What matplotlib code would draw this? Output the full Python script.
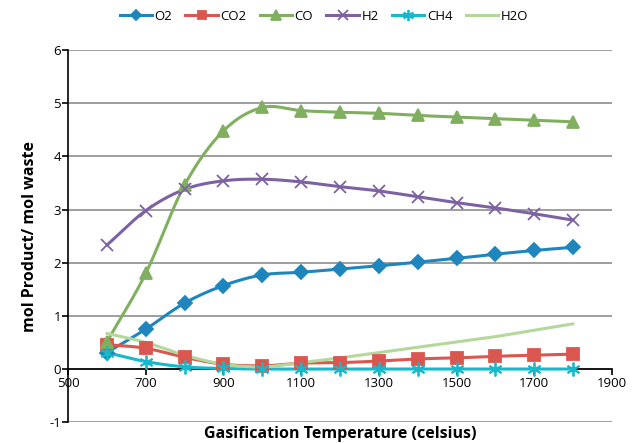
import numpy as np
import matplotlib
matplotlib.use("Agg")
import matplotlib.pyplot as plt

plt.rcParams['font.family'] = ['Open Sans', 'DejaVu Sans']
plt.rcParams['axes.unicode_minus'] = False

# gasification temperature (celsius) and mol product per mol waste
temps = [600, 700, 800, 900, 1000, 1100, 1200, 1300, 1400, 1500, 1600, 1700, 1800]
o2 = [0.31, 0.75, 1.24, 1.57, 1.77, 1.82, 1.88, 1.94, 2.01, 2.08, 2.16, 2.23, 2.29]
co2 = [0.46, 0.39, 0.22, 0.09, 0.06, 0.11, 0.12, 0.15, 0.19, 0.21, 0.24, 0.26, 0.28]
co = [0.51, 1.80, 3.46, 4.48, 4.92, 4.86, 4.83, 4.81, 4.77, 4.74, 4.71, 4.68, 4.65]
h2 = [2.33, 2.98, 3.38, 3.54, 3.57, 3.52, 3.43, 3.35, 3.24, 3.13, 3.03, 2.92, 2.80]
ch4 = [0.31, 0.14, 0.04, 0.01, 0.0, 0.0, 0.0, 0.0, 0.0, 0.0, 0.0, 0.0, 0.0]
h2o = [0.67, 0.50, 0.26, 0.09, 0.04, 0.12, 0.21, 0.31, 0.41, 0.51, 0.61, 0.73, 0.85]

x_ticks = [500, 700, 900, 1100, 1300, 1500, 1700, 1900]
y_ticks = [-1, 0, 1, 2, 3, 4, 5, 6]


def smooth(xs, ys, n=20):
    # Catmull-Rom curve through the points, like a spreadsheet "smoothed line"
    xs = np.asarray(xs, float)
    ys = np.asarray(ys, float)
    px = np.concatenate([[2 * xs[0] - xs[1]], xs, [2 * xs[-1] - xs[-2]]])
    py = np.concatenate([[2 * ys[0] - ys[1]], ys, [2 * ys[-1] - ys[-2]]])
    t = np.linspace(0, 1, n, endpoint=False)
    outx, outy = [], []
    for i in range(1, len(px) - 2):
        for p, out in ((px, outx), (py, outy)):
            p0, p1, p2, p3 = p[i - 1], p[i], p[i + 1], p[i + 2]
            out.extend(0.5 * ((2 * p1) + (-p0 + p2) * t
                              + (2 * p0 - 5 * p1 + 4 * p2 - p3) * t ** 2
                              + (-p0 + 3 * p1 - 3 * p2 + p3) * t ** 3))
    outx.append(xs[-1])
    outy.append(ys[-1])
    return np.array(outx), np.array(outy)


series = [
    ('O2', o2, '#1f86bd', 'D', 7),
    ('CO2', co2, '#dc5650', 's', 8),
    ('CO', co, '#80b05f', '^', 9),
    ('H2', h2, '#7d62a3', 'x', 9),
    ('CH4', ch4, '#14bacb', (6, 2, 0), 10),
    ('H2O', h2o, '#b4d89c', None, 0),
]

fig = plt.figure(figsize=(6.37, 4.43), dpi=100)
ax = fig.add_axes([0.1068, 0.047, 0.854, 0.840])

for name, vals, color, marker, ms in series:
    sx, sy = smooth(temps, vals)
    ax.plot(sx, sy, color=color, lw=2.2, solid_capstyle='round', zorder=3)
    if marker is not None:
        ax.plot(temps, vals, linestyle='none', marker=marker, markersize=ms,
                color=color, markeredgecolor=color, markeredgewidth=1.3, zorder=4)
    ax.plot([], [], color=color, lw=2.2, marker=marker, markersize=ms * 0.8,
            markeredgewidth=1.3, label=name)

ax.set_xlim(500, 1900)
ax.set_ylim(-1, 6)
ax.set_xticks(x_ticks)
ax.set_yticks(y_ticks)
ax.grid(axis='y', color='#969696', lw=1.3)
ax.set_axisbelow(True)

for side in ('top', 'right'):
    ax.spines[side].set_visible(False)
ax.spines['bottom'].set_position(('data', 0))
ax.spines['bottom'].set_linewidth(1.2)
ax.spines['left'].set_linewidth(1.2)
ax.tick_params(axis='both', direction='out', length=4, width=1.2, labelsize=9.5, pad=1)
ax.tick_params(axis='x', pad=2)

ax.set_xlabel('Gasification Temperature (celsius)', fontsize=11.5, fontweight='bold')
ax.xaxis.set_label_coords(0.5, -0.01)
ax.set_ylabel('mol Product/ mol waste', fontsize=11.5, fontweight='bold', labelpad=8)

ax.legend(loc='center', bbox_to_anchor=(0.47, 1.09), ncol=6, frameon=False,
          fontsize=9.5, handlelength=2.45, handletextpad=0.2, columnspacing=1.0)

fig.savefig('out.png', dpi=100)
